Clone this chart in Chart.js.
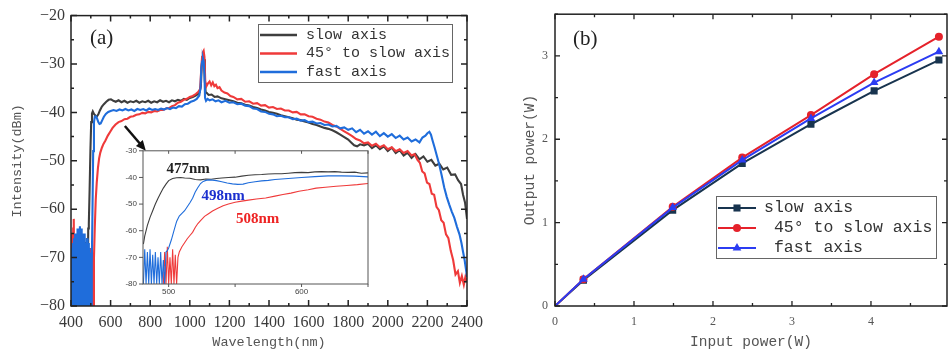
<!DOCTYPE html>
<html>
<head>
<meta charset="utf-8">
<script src="https://cdn.jsdelivr.net/npm/chart.js@4.4.1/dist/chart.umd.min.js"></script>
<style>
    html, body { margin: 0; padding: 0; background: #fff; width: 950px; height: 354px; overflow: hidden; }
    #wrap { position: relative; width: 950px; height: 354px; }
    canvas { position: absolute; top: 0; }
    #chartA { left: 0; }
    #chartInset { left: 115px; top: 140px; }
    #chartB { left: 480px; }
</style>
</head>
<body>
<div id="wrap">
    <canvas id="chartA" width="500" height="354"></canvas>
    <canvas id="chartInset" width="260" height="160"></canvas>
    <canvas id="chartB" width="472" height="354"></canvas>
</div>
<script>
// ---- (a) spectra ----
const seriesNames = ['slow axis', '45° to slow axis', 'fast axis'];

const slowWl = [
    400, 404, 408, 412, 416, 420, 424, 428, 432, 436,
    440, 444, 448, 452, 456, 460, 464, 468, 472, 476,
    480, 484, 487, 490, 494, 498, 502, 506, 510, 516,
    522, 530, 538, 546, 556, 566, 578, 590, 602, 614,
    626, 640, 655, 670, 685, 700, 715, 730, 745, 760,
    775, 790, 805, 820, 835, 850, 865, 880, 895, 910,
    925, 940, 955, 970, 985, 1000, 1015, 1030, 1042, 1050,
    1056, 1060, 1064, 1068, 1072, 1076, 1080, 1086, 1095, 1110,
    1125, 1140, 1160, 1180, 1200, 1220, 1240, 1260, 1280, 1300,
    1320, 1340, 1360, 1380, 1400, 1420, 1440, 1460, 1480, 1500,
    1520, 1540, 1560, 1580, 1600, 1620, 1640, 1660, 1680, 1700,
    1720, 1740, 1760, 1780, 1800, 1815, 1830, 1845, 1860, 1880,
    1900, 1920, 1940, 1960, 1980, 2000, 2020, 2040, 2060, 2080,
    2100, 2120, 2140, 2160, 2180, 2200, 2220, 2240, 2260, 2280,
    2300, 2320, 2340, 2355, 2370, 2380, 2390, 2400];
const slowDbm = [
    -80, -72, -80, -70, -80, -71, -80, -69, -80, -70,
    -80, -68, -80, -69, -80, -70, -80, -68, -80, -67,
    -66, -80, -64, -63, -56, -48, -42, -40.2, -39.8, -40.3,
    -40.6, -40.9, -40.4, -39.6, -38.8, -38.3, -37.8, -37.4, -37.3, -37.6,
    -37.8, -37.5, -37.9, -37.6, -38.0, -37.7, -37.9, -37.6, -38.0, -37.7,
    -37.9, -37.6, -38.0, -37.7, -37.9, -37.5, -37.8, -37.6, -37.9, -37.5,
    -37.7, -37.4, -37.6, -37.2, -37.4, -37.0, -36.8, -36.5, -36.2, -35.8,
    -34.5, -30.5, -28.8, -28.3, -29.0, -33.5, -35.8, -36.0, -36.4, -36.3,
    -36.8, -36.7, -37.1, -37.3, -37.5, -37.7, -38.0, -38.1, -38.4, -38.6,
    -38.9, -39.1, -39.4, -39.6, -39.9, -40.1, -40.3, -40.6, -40.8, -41.0,
    -41.2, -41.5, -41.6, -41.9, -42.1, -42.4, -42.6, -42.9, -43.2, -43.4,
    -43.7, -44.1, -44.6, -45.1, -45.6, -46.2, -46.8, -47.0, -46.6, -46.8,
    -46.5, -47.4, -46.8, -47.6, -47.0, -48.0, -47.3, -48.4, -47.8, -48.9,
    -48.3, -49.4, -48.6, -49.7, -49.1, -50.2, -49.8, -51.0, -50.6, -51.8,
    -51.4, -52.9, -52.8, -54.0, -54.8, -57.0, -58.6, -62.0];

const redWl = [
    400, 402, 405, 408, 411, 414, 417, 420, 424, 428,
    432, 436, 440, 444, 448, 452, 456, 460, 464, 468,
    472, 476, 480, 484, 488, 492, 496, 500, 504, 508,
    512, 516, 520, 525, 530, 536, 542, 548, 556, 564,
    574, 586, 598, 610, 625, 640, 655, 670, 685, 700,
    715, 730, 745, 760, 775, 790, 805, 820, 835, 850,
    865, 880, 895, 910, 925, 940, 955, 970, 985, 1000,
    1015, 1030, 1042, 1052, 1058, 1062, 1066, 1070, 1074, 1078,
    1084, 1092, 1100, 1108, 1116, 1124, 1132, 1140, 1150, 1160,
    1175, 1190, 1205, 1220, 1240, 1260, 1280, 1300, 1320, 1340,
    1360, 1380, 1400, 1420, 1440, 1460, 1480, 1500, 1520, 1540,
    1560, 1580, 1600, 1620, 1640, 1660, 1680, 1700, 1720, 1740,
    1760, 1780, 1800, 1820, 1840, 1860, 1880, 1900, 1920, 1940,
    1960, 1980, 2000, 2020, 2040, 2060, 2080, 2100, 2120, 2135,
    2150, 2162, 2174, 2186, 2198, 2210, 2222, 2234, 2246, 2258,
    2270, 2282, 2294, 2306, 2318, 2330, 2342, 2354, 2364, 2374,
    2384, 2392, 2400];
const redDbm = [
    -65, -80, -68, -80, -64, -62, -80, -66, -80, -69,
    -80, -70, -80, -68, -80, -70, -80, -69, -80, -70,
    -80, -71, -80, -69, -80, -70, -80, -68, -80, -69,
    -80, -70, -64, -58, -54.5, -51.5, -49.5, -48.3, -47.3, -46.5,
    -45.8, -44.8, -44.0, -43.2, -42.5, -42.0, -41.8, -41.4, -41.3, -40.9,
    -40.8, -40.5, -40.4, -40.1, -40.2, -39.9, -40.0, -39.7, -39.8, -39.5,
    -39.5, -39.2, -39.1, -38.7, -38.5, -38.0, -37.8, -37.4, -37.2, -36.8,
    -36.6, -36.2, -35.8, -35.2, -31.0, -28.5, -27.6, -27.3, -28.5, -33.5,
    -34.6, -34.0, -33.6, -34.4, -33.8, -34.6, -34.3, -35.0, -34.8, -35.5,
    -35.9, -36.1, -36.6, -36.8, -37.3, -37.2, -37.8, -37.7, -38.2, -38.1,
    -38.6, -38.5, -39.0, -38.9, -39.3, -39.2, -39.6, -39.6, -40.0, -39.9,
    -40.4, -40.4, -40.8, -40.9, -41.3, -41.5, -41.9, -42.1, -42.6, -42.9,
    -43.4, -43.9, -44.4, -44.9, -45.5, -45.8, -46.4, -46.2, -46.9, -46.5,
    -47.2, -46.8, -47.6, -47.2, -48.0, -47.6, -48.4, -48.0, -48.9, -48.6,
    -49.8, -50.4, -52.2, -52.6, -54.5, -54.8, -56.8, -57.0, -59.5, -60.2,
    -62.3, -62.8, -65.2, -66.0, -68.6, -70.5, -73.5, -72.8, -75.2, -73.8,
    -75.6, -74.0, -75.0];

const fastWl = [
    400, 403, 406, 409, 412, 415, 418, 421, 424, 427,
    430, 433, 436, 439, 442, 445, 448, 451, 454, 457,
    460, 463, 466, 469, 472, 475, 478, 481, 484, 487,
    490, 493, 496, 499, 502, 505, 508, 512, 516, 520,
    526, 532, 538, 544, 550, 558, 566, 576, 588, 600,
    615, 630, 645, 660, 675, 690, 705, 720, 735, 750,
    765, 780, 795, 810, 825, 840, 855, 870, 885, 900,
    915, 930, 945, 960, 975, 990, 1005, 1020, 1035, 1048,
    1054, 1058, 1062, 1066, 1070, 1074, 1077, 1082, 1090, 1100,
    1115, 1130, 1145, 1160, 1180, 1200, 1220, 1240, 1260, 1280,
    1300, 1320, 1340, 1360, 1380, 1400, 1420, 1440, 1460, 1480,
    1500, 1520, 1540, 1560, 1580, 1600, 1620, 1640, 1660, 1680,
    1700, 1720, 1740, 1760, 1780, 1800, 1820, 1840, 1860, 1880,
    1900, 1920, 1940, 1960, 1980, 2000, 2020, 2040, 2060, 2080,
    2100, 2120, 2140, 2160, 2175, 2190, 2200, 2210, 2218, 2226,
    2236, 2248, 2260, 2272, 2285, 2298, 2310, 2323, 2336, 2349,
    2362, 2372, 2380, 2388, 2395, 2400];
const fastDbm = [
    -80, -68, -80, -67, -80, -66, -80, -65, -80, -65,
    -80, -64, -80, -64, -80, -63.5, -80, -64, -80, -65,
    -80, -66, -80, -65, -80, -67, -80, -66, -80, -67,
    -80, -68, -80, -69, -80, -71, -62, -48, -42, -40.9,
    -40.8, -41.3, -42.0, -42.4, -42.3, -41.6, -40.9, -40.3, -39.9, -39.7,
    -39.5, -39.7, -39.4, -39.6, -39.3, -39.6, -39.4, -39.7, -39.3, -39.5,
    -39.3, -39.6, -39.2, -39.5, -39.3, -39.5, -39.2, -39.4, -39.1, -39.3,
    -39.0, -39.1, -38.7, -38.8, -38.3, -38.2, -37.8, -37.6, -37.2, -36.5,
    -35.0, -31.0, -29.5, -28.8, -29.5, -32.0, -37.0, -37.6, -37.2, -37.5,
    -37.3, -37.7, -37.5, -37.9, -37.6, -38.0, -37.9, -38.3, -38.2, -38.6,
    -38.7, -39.2, -39.3, -39.8, -39.9, -40.3, -40.4, -40.8, -40.7, -41.0,
    -41.0, -41.4, -41.3, -41.7, -41.6, -42.0, -41.9, -42.3, -42.2, -42.6,
    -42.5, -42.9, -42.8, -43.3, -43.1, -43.6, -43.3, -44.1, -43.6, -44.4,
    -43.9, -44.6, -44.0, -44.9, -44.3, -45.0, -44.5, -45.3, -44.8, -45.6,
    -45.2, -46.0, -45.6, -46.2, -45.2, -44.8, -44.3, -44.0, -44.6, -45.8,
    -47.2, -49.0, -50.8, -53.0, -55.5, -57.5, -59.0, -60.5, -61.8, -63.6,
    -65.2, -67.0, -68.8, -70.5, -72.5, -74.0];

// inset: the band edge, 480-650 nm
const insetSlowWl = [
    481, 482, 484, 486, 488, 490, 492, 494, 496, 498,
    500, 503, 506, 509, 512, 516, 520, 524, 528, 532,
    536, 540, 545, 550, 555, 560, 565, 570, 575, 580,
    585, 590, 595, 600, 605, 610, 615, 620, 625, 630,
    635, 640, 645, 650];
const insetSlowDbm = [
    -65, -62, -58, -55, -52.5, -50, -47.8, -45.8, -44, -42.5,
    -41.2, -40.4, -40.1, -40.0, -40.2, -40.3, -40.8, -40.9, -40.6, -40.7,
    -40.4, -40.2, -40.0, -39.9, -39.5, -39.2, -39.0, -38.9, -38.7, -38.6,
    -38.6, -38.4, -38.2, -38.1, -38.2, -37.9, -37.8, -37.9, -37.8, -38.0,
    -38.1, -38.0, -38.4, -38.3];

const insetRedWl = [
    496, 497, 498, 499, 500, 501, 502, 503, 504, 505,
    506, 507, 508, 510, 512, 514, 516, 518, 520, 522,
    524, 527, 530, 533, 537, 541, 545, 550, 555, 560,
    566, 573, 580, 586, 592, 598, 605, 611, 618, 626,
    634, 642, 650];
const insetRedDbm = [
    -80, -68, -80, -66, -80, -70, -80, -67, -80, -69,
    -80, -70, -68, -66, -64.5, -63, -61.8, -60.6, -58.8, -57.3,
    -56.2, -54.6, -53.6, -52.6, -51.6, -50.6, -50.0, -49.3, -48.9, -48.5,
    -48.1, -47.7, -47.0, -46.4, -45.9, -45.2, -44.6, -44.0, -43.7, -43.3,
    -43.0, -42.7, -42.3];

const insetFastWl = [
    481, 482, 483, 484, 485, 486, 487, 488, 489, 490,
    491, 492, 493, 494, 495, 496, 497, 498, 499, 500,
    502, 504, 506, 508, 510, 512, 514, 516, 518, 520,
    522, 524, 526, 528, 530, 533, 536, 540, 544, 548,
    552, 556, 560, 565, 570, 575, 580, 590, 600, 610,
    620, 630, 640, 650];
const insetFastDbm = [
    -80, -67, -80, -68, -80, -67, -80, -69, -80, -68,
    -80, -70, -80, -68, -80, -71, -80, -68, -67.5, -66.5,
    -63.5, -60, -56.5, -54.5, -53.5, -52.5, -51, -49.5, -47.8, -45.5,
    -43.8, -42.3, -41.5, -41.1, -40.9, -41.0, -41.2, -41.6, -42.1, -42.4,
    -42.6, -42.5, -42.0, -41.6, -41.3, -41.1, -40.8, -40.4, -40.0, -39.7,
    -39.4, -39.4, -39.5, -39.8];
const insetNotes = ['477nm', '498nm', '508nm'];

// ---- (b) output power ----
const powerNames = ['slow axis', ' 45° to slow axis', ' fast axis'];
const inputPower = [0, 0.36, 1.49, 2.37, 3.24, 4.04, 4.86];
const outSlow = [0, 0.31, 1.15, 1.71, 2.18, 2.58, 2.95];
const out45 = [0, 0.32, 1.19, 1.78, 2.29, 2.78, 3.23];
const outFast = [0, 0.32, 1.18, 1.75, 2.25, 2.68, 3.05];

// tick labels
const wlTicks = [400, 600, 800, 1000, 1200, 1400, 1600, 1800, 2000, 2200, 2400];
const dbmTicks = [-20, -30, -40, -50, -60, -70, -80];
const insetWlTicks = [500, 600];
const insetDbmTicks = [-30, -40, -50, -60, -70, -80];
const inTicks = [0, 1, 2, 3, 4];
const outTicks = [0, 1, 2, 3];

const monoFont = 'Liberation Mono';
const serifFont = 'Liberation Serif';

function pts(xs, ys) {
    return xs.map(function (x, i) { return { x: x, y: ys[i] }; });
}

function fixTicks(values) {
    return function (scale) {
        scale.ticks = values.map(function (v) { return { value: v }; });
    };
}

// box round the plot with inward/outward tick marks
const frame = {
    id: 'frame',
    afterDatasetsDraw(chart, args, o) {
        const ctx = chart.ctx, a = chart.chartArea;
        ctx.save();
        ctx.strokeStyle = o.color;
        ctx.lineWidth = o.width;
        ctx.strokeRect(a.left, a.top, a.right - a.left, a.bottom - a.top);
        ctx.lineWidth = o.tickWidth;
        ctx.beginPath();
        o.marks.forEach(function (m) {
            const s = chart.scales[m.axis];
            for (let v = Math.ceil(s.min / m.step - 1e-6) * m.step; v <= s.max + 1e-6; v += m.step) {
                const p = s.getPixelForValue(v);
                Object.keys(m.sides).forEach(function (side) {
                    const d = m.sides[side] * m.len;
                    if (side === 'bottom') { ctx.moveTo(p, a.bottom); ctx.lineTo(p, a.bottom - d); }
                    if (side === 'top') { ctx.moveTo(p, a.top); ctx.lineTo(p, a.top + d); }
                    if (side === 'left') { ctx.moveTo(a.left, p); ctx.lineTo(a.left + d, p); }
                    if (side === 'right') { ctx.moveTo(a.right, p); ctx.lineTo(a.right - d, p); }
                });
            }
        });
        ctx.stroke();
        ctx.restore();
    }
};

function markerSize(style) {
    return style === 'circle' ? 4 : 5;
}

function drawMarker(ctx, style, x, y) {
    const r = markerSize(style);
    ctx.beginPath();
    if (style === 'rect') {
        const s = r * Math.SQRT1_2;
        ctx.rect(x - s, y - s, 2 * s, 2 * s);
    } else if (style === 'triangle') {
        ctx.moveTo(x, y - r);
        ctx.lineTo(x + r * 0.866, y + r * 0.5);
        ctx.lineTo(x - r * 0.866, y + r * 0.5);
        ctx.closePath();
    } else {
        ctx.arc(x, y, r, 0, Math.PI * 2);
    }
    ctx.fill();
}

const boxLegend = {
    id: 'boxLegend',
    afterDraw(chart, args, o) {
        const ctx = chart.ctx;
        ctx.save();
        ctx.fillStyle = '#fff';
        ctx.fillRect(o.x, o.y, o.w, o.h);
        ctx.strokeStyle = '#666';
        ctx.lineWidth = 1;
        ctx.strokeRect(o.x + 0.5, o.y + 0.5, o.w, o.h);
        ctx.font = o.font;
        ctx.textBaseline = 'middle';
        chart.data.datasets.forEach(function (ds, i) {
            const ry = o.y + o.first + i * o.gap;
            ctx.strokeStyle = ds.borderColor;
            ctx.lineWidth = o.lineWidth;
            ctx.beginPath();
            ctx.moveTo(o.x + 2, ry);
            ctx.lineTo(o.x + 2 + o.sample, ry);
            ctx.stroke();
            if (o.markers) {
                ctx.fillStyle = ds.borderColor;
                drawMarker(ctx, ds.pointStyle, o.x + 2 + o.sample / 2, ry);
            }
            ctx.fillStyle = '#333';
            ctx.fillText(ds.label, o.x + o.textX, ry);
        });
        ctx.restore();
    }
};

const panelLabel = {
    id: 'panelLabel',
    afterDraw(chart, args, o) {
        const ctx = chart.ctx;
        ctx.save();
        ctx.font = o.font;
        ctx.fillStyle = '#222';
        ctx.textBaseline = 'middle';
        ctx.fillText(o.text, o.x, o.y);
        ctx.restore();
    }
};

// arrow from the band edge to the inset
const arrow = {
    id: 'arrow',
    afterDatasetsDraw(chart, args, o) {
        const ctx = chart.ctx, x = chart.scales.x, y = chart.scales.y;
        const x0 = x.getPixelForValue(o.from[0]), y0 = y.getPixelForValue(o.from[1]);
        const x1 = x.getPixelForValue(o.to[0]), y1 = y.getPixelForValue(o.to[1]);
        const ang = Math.atan2(y1 - y0, x1 - x0);
        ctx.save();
        ctx.strokeStyle = '#111';
        ctx.fillStyle = '#111';
        ctx.lineWidth = 2.5;
        ctx.beginPath();
        ctx.moveTo(x0, y0);
        ctx.lineTo(x1 - 7 * Math.cos(ang), y1 - 7 * Math.sin(ang));
        ctx.stroke();
        ctx.beginPath();
        ctx.moveTo(x1, y1);
        ctx.lineTo(x1 - 10 * Math.cos(ang) + 4.5 * Math.sin(ang), y1 - 10 * Math.sin(ang) - 4.5 * Math.cos(ang));
        ctx.lineTo(x1 - 10 * Math.cos(ang) - 4.5 * Math.sin(ang), y1 - 10 * Math.sin(ang) + 4.5 * Math.cos(ang));
        ctx.closePath();
        ctx.fill();
        ctx.restore();
    }
};

const insetBg = {
    id: 'insetBg',
    beforeDatasetsDraw(chart) {
        const a = chart.chartArea;
        chart.ctx.save();
        chart.ctx.fillStyle = '#fff';
        chart.ctx.fillRect(a.left, a.top, a.right - a.left, a.bottom - a.top);
        chart.ctx.restore();
    }
};

const notes = {
    id: 'notes',
    afterDatasetsDraw(chart, args, o) {
        const ctx = chart.ctx, x = chart.scales.x, y = chart.scales.y;
        ctx.save();
        ctx.font = o.font;
        ctx.textBaseline = 'middle';
        insetNotes.forEach(function (t, i) {
            ctx.fillStyle = o.colors[i];
            ctx.fillText(t, x.getPixelForValue(o.at[i][0]), y.getPixelForValue(o.at[i][1]));
        });
        ctx.restore();
    }
};

const minus = function (v) { return String(v).replace('-', '\u2212'); };
const plain = function (v) { return String(v); };

// ---- chart (a) ----
new Chart(document.getElementById('chartA'), {
    type: 'line',
    data: {
        datasets: [
            { label: seriesNames[0], data: pts(slowWl, slowDbm), borderColor: '#3e3e3e', order: 3 },
            { label: seriesNames[1], data: pts(redWl, redDbm), borderColor: '#ef3a3a', order: 2 },
            { label: seriesNames[2], data: pts(fastWl, fastDbm), borderColor: '#1f6ddb', order: 1 }
        ]
    },
    options: {
        responsive: false,
        animation: false,
        layout: { padding: { top: 13, right: 33, left: 0, bottom: 0 } },
        elements: { point: { radius: 0 }, line: { borderWidth: 2.1, tension: 0 } },
        scales: {
            x: {
                type: 'linear', min: 400, max: 2400,
                afterBuildTicks: fixTicks(wlTicks),
                afterFit: function (s) { s.height = 48; },
                grid: { display: false, drawTicks: false },
                border: { display: false },
                ticks: { font: { family: serifFont, size: 16 }, color: '#3a3a3a', padding: 7, maxRotation: 0, autoSkip: false, callback: plain },
                title: { display: true, text: 'Wavelength(nm)', font: { family: monoFont, size: 13.5 }, color: '#555', padding: { top: 0, bottom: 3 } }
            },
            y: {
                type: 'linear', min: -80, max: -20,
                afterBuildTicks: fixTicks(dbmTicks),
                afterFit: function (s) { s.width = 71; },
                grid: { display: false, drawTicks: false },
                border: { display: false },
                ticks: { font: { family: serifFont, size: 16 }, color: '#3a3a3a', padding: 6, callback: minus },
                title: { display: true, text: 'Intensity(dBm)', font: { family: monoFont, size: 13.5 }, color: '#555', padding: { top: 9, bottom: 0 } }
            }
        },
        plugins: {
            legend: { display: false },
            tooltip: { enabled: false },
            frame: {
                color: '#222', width: 1.5, tickWidth: 1.5,
                marks: [
                    { axis: 'x', step: 200, len: 6, sides: { bottom: 1, top: 1 } },
                    { axis: 'x', step: 100, len: 3, sides: { bottom: 1, top: 1 } },
                    { axis: 'y', step: 10, len: 6, sides: { left: 1, right: 1 } },
                    { axis: 'y', step: 5, len: 3, sides: { left: 1, right: 1 } }
                ]
            },
            boxLegend: { x: 258, y: 24, w: 194, h: 58, first: 11, gap: 18.5, sample: 37, textX: 48, lineWidth: 2.5, font: '15px "' + monoFont + '"', markers: false },
            panelLabel: { text: '(a)', x: 90, y: 38, font: '21px "' + serifFont + '"' },
            arrow: { from: [672, -42.8], to: [778, -47.9] }
        }
    },
    plugins: [frame, boxLegend, panelLabel, arrow]
});

// ---- inset ----
new Chart(document.getElementById('chartInset'), {
    type: 'line',
    data: {
        datasets: [
            { label: seriesNames[0], data: pts(insetSlowWl, insetSlowDbm), borderColor: '#3e3e3e', order: 3 },
            { label: seriesNames[1], data: pts(insetRedWl, insetRedDbm), borderColor: '#ef3a3a', order: 2 },
            { label: seriesNames[2], data: pts(insetFastWl, insetFastDbm), borderColor: '#1f6ddb', order: 1 }
        ]
    },
    options: {
        responsive: false,
        animation: false,
        layout: { padding: { top: 9, right: 7, left: 0, bottom: 0 } },
        elements: { point: { radius: 0 }, line: { borderWidth: 1.1, tension: 0 } },
        scales: {
            x: {
                type: 'linear', min: 480.7, max: 650,
                afterBuildTicks: fixTicks(insetWlTicks),
                afterFit: function (s) { s.height = 16; },
                grid: { display: false, drawTicks: false },
                border: { display: false },
                ticks: { font: { family: 'Liberation Sans', size: 8 }, color: '#444', padding: 3, maxRotation: 0, autoSkip: false, callback: plain }
            },
            y: {
                type: 'linear', min: -80, max: -30,
                afterBuildTicks: fixTicks(insetDbmTicks),
                afterFit: function (s) { s.width = 28; },
                grid: { display: false, drawTicks: false },
                border: { display: false },
                ticks: { font: { family: 'Liberation Sans', size: 8 }, color: '#444', padding: 6 }
            }
        },
        plugins: {
            legend: { display: false },
            tooltip: { enabled: false },
            frame: {
                color: '#555', width: 1, tickWidth: 1,
                marks: [
                    { axis: 'x', step: 50, len: 3, sides: { top: 1, bottom: -1 } },
                    { axis: 'y', step: 10, len: 4, sides: { left: -1 } }
                ]
            },
            notes: {
                font: 'bold 15px "' + serifFont + '"',
                colors: ['#222', '#1b2fcf', '#ee2424'],
                at: [[498.3, -36.8], [524.7, -47.0], [550.6, -55.6]]
            }
        }
    },
    plugins: [insetBg, frame, notes]
});

// ---- chart (b) ----
const pointSize = function (c) {
    return c.dataIndex === 0 ? 0 : markerSize(c.dataset.pointStyle);
};
new Chart(document.getElementById('chartB'), {
    type: 'line',
    data: {
        datasets: [
            { label: powerNames[0], data: pts(inputPower, outSlow), borderColor: '#18344f', backgroundColor: '#18344f', pointStyle: 'rect', order: 3 },
            { label: powerNames[1], data: pts(inputPower, out45), borderColor: '#e5222b', backgroundColor: '#e5222b', pointStyle: 'circle', order: 2 },
            { label: powerNames[2], data: pts(inputPower, outFast), borderColor: '#2b3cf2', backgroundColor: '#2b3cf2', pointStyle: 'triangle', order: 1 }
        ]
    },
    options: {
        responsive: false,
        animation: false,
        layout: { padding: { top: 12, right: 0, left: 0, bottom: 0 } },
        elements: {
            point: { radius: pointSize, borderWidth: 0 },
            line: { borderWidth: 2, tension: 0 }
        },
        scales: {
            x: {
                type: 'linear', min: 0, max: 4.9625,
                afterBuildTicks: fixTicks(inTicks),
                afterFit: function (s) { s.height = 48; },
                grid: { display: false, drawTicks: false },
                border: { display: false },
                ticks: { font: { family: serifFont, size: 12 }, color: '#555', padding: 9, maxRotation: 0, autoSkip: false, callback: plain },
                title: { display: true, text: 'Input power(W)', font: { family: monoFont, size: 14.5 }, color: '#555', padding: { top: 0, bottom: 3.3 } }
            },
            y: {
                type: 'linear', min: 0, max: 3.5,
                afterBuildTicks: fixTicks(outTicks),
                afterFit: function (s) { s.width = 75; },
                grid: { display: false, drawTicks: false },
                border: { display: false },
                ticks: { font: { family: serifFont, size: 12 }, color: '#555', padding: 7, callback: plain },
                title: { display: true, text: 'Output power(W)', font: { family: monoFont, size: 14.5 }, color: '#555', padding: { top: 41, bottom: 0 } }
            }
        },
        plugins: {
            legend: { display: false },
            tooltip: { enabled: false },
            frame: {
                color: '#222', width: 1.5, tickWidth: 1.3,
                marks: [
                    { axis: 'x', step: 1, len: 5, sides: { bottom: 1, top: 1 } },
                    { axis: 'x', step: 0.5, len: 3, sides: { bottom: 1, top: 1 } },
                    { axis: 'y', step: 1, len: 5, sides: { left: 1, right: 1 } },
                    { axis: 'y', step: 0.5, len: 3, sides: { left: 1, right: 1 } }
                ]
            },
            boxLegend: { x: 236, y: 196, w: 220, h: 62, first: 12, gap: 20, sample: 38, textX: 48, lineWidth: 2, font: '16.5px "' + monoFont + '"', markers: true },
            panelLabel: { text: '(b)', x: 93, y: 39, font: '21px "' + serifFont + '"' }
        }
    },
    plugins: [frame, boxLegend, panelLabel]
});
</script>
</body>
</html>
